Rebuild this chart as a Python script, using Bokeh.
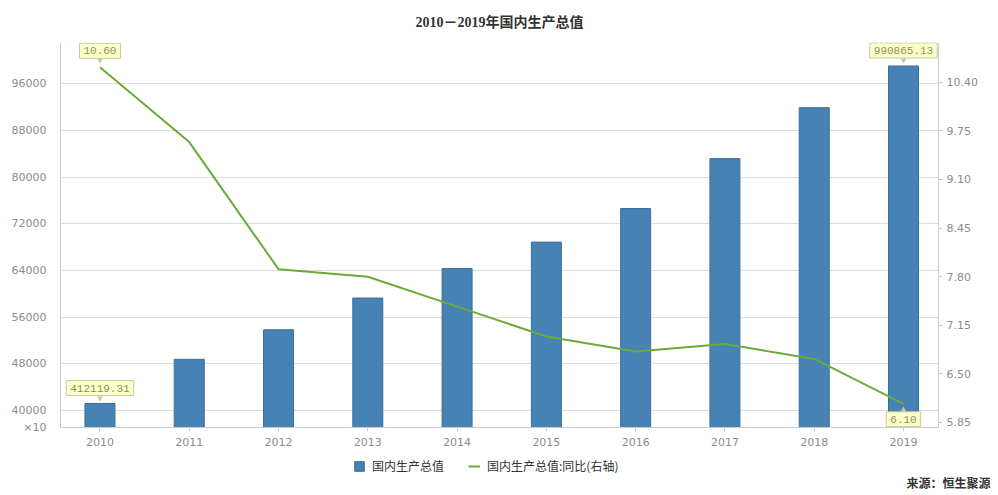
from bokeh.plotting import figure
from bokeh.layouts import column
from bokeh.models import (Range1d, LinearAxis, FixedTicker, NumeralTickFormatter,
                          Label, Legend, LegendItem, ColumnDataSource)
from bokeh.embed import file_html
from bokeh.resources import INLINE

years = ["2010", "2011", "2012", "2013", "2014", "2015", "2016", "2017", "2018", "2019"]
gdp = [41211.931, 48794.02, 53858.0, 59296.32, 64356.31, 68885.82, 74639.51, 83203.59, 91928.11, 99086.51]
growth = [10.6, 9.6, 7.9, 7.8, 7.4, 7.0, 6.8, 6.9, 6.7, 6.1]
left_ticks = [40000, 48000, 56000, 64000, 72000, 80000, 88000, 96000]
right_ticks = [5.85, 6.50, 7.15, 7.80, 8.45, 9.10, 9.75, 10.40]
bar_labels = {0: "412119.31", 9: "990865.13"}
line_labels = {0: "10.60", 9: "6.10"}
unit_text = "×10"
title_text = "2010－2019年国内生产总值"
source_text = "来源：恒生聚源"
series_names = ["国内生产总值", "国内生产总值:同比(右轴)"]

Y0, Y1 = 37100, 103112
xs = list(range(len(years)))
src = ColumnDataSource(dict(x=xs, gdp=gdp, growth=growth))

BAR_FILL, BAR_LINE, LINE_C = "#4682b4", "#3b6f9c", "#6aaa3a"

p = figure(width=998, height=452, output_backend="svg", toolbar_location=None,
           x_range=Range1d(-0.442, 9.392), y_range=Range1d(Y0, Y1),
           min_border_left=60, min_border_right=60, min_border_top=40, min_border_bottom=25)
p.outline_line_color = None
p.extra_y_ranges = {"r": Range1d(5.783, 10.932)}
try:
    p.frame_align = False
except Exception:
    pass

p.title.text = title_text
p.title.align = "center"
p.title.text_font = "'Liberation Serif', 'Noto Sans CJK SC'"
p.title.text_font_size = "14px"
p.title.text_font_style = "bold"
p.title.text_color = "#333333"
p.title.standoff = 25

FONT = "DejaVu Sans"
TICKC = "#8c8c8c"
AXC = "#cccccc"

ya = p.yaxis[0]
ya.ticker = FixedTicker(ticks=[Y0] + left_ticks)
ya.major_label_overrides = {Y0: unit_text}
ya.axis_line_color = AXC
ya.major_tick_line_color = None
ya.minor_tick_line_color = None
ya.major_label_text_font = FONT
ya.major_label_text_font_size = "11px"
ya.major_label_text_color = TICKC
ya.major_label_standoff = 8

ra = LinearAxis(y_range_name="r", ticker=FixedTicker(ticks=right_ticks),
                formatter=NumeralTickFormatter(format="0.00"))
ra.axis_line_color = AXC
ra.major_tick_line_color = AXC
ra.major_tick_out = 4
ra.major_tick_in = 0
ra.minor_tick_line_color = None
ra.major_label_text_font = FONT
ra.major_label_text_font_size = "11px"
ra.major_label_text_color = TICKC
ra.major_label_standoff = 4
p.add_layout(ra, "right")

xa = p.xaxis[0]
xa.ticker = FixedTicker(ticks=xs)
xa.major_label_overrides = {i: y for i, y in enumerate(years)}
xa.axis_line_color = AXC
xa.major_tick_line_color = AXC
xa.major_tick_out = 4
xa.major_tick_in = 0
xa.minor_tick_line_color = None
xa.major_label_text_font = FONT
xa.major_label_text_font_size = "11px"
xa.major_label_text_color = TICKC
xa.major_label_standoff = 6

p.xgrid.grid_line_color = None
p.ygrid.grid_line_color = "#dcdcdc"

bars = p.vbar(x="x", top="gdp", bottom=0, width=0.336, source=src,
              fill_color=BAR_FILL, line_color=BAR_LINE, line_width=1)
line = p.line(x="x", y="growth", source=src, y_range_name="r",
              line_color=LINE_C, line_width=2)

LBLC = "#8f8f5a"
BOXB = "#c8c8a0"
def callout(x, y, text, above, off, rng="default"):
    p.add_layout(Label(x=x, y=y, text=text, y_range_name=rng,
                       text_align="center", text_baseline="bottom" if above else "top",
                       y_offset=off if above else -off,
                       text_font="Liberation Mono", text_font_size="11px", text_color=LBLC,
                       background_fill_color="#ffffcc", border_line_color=BOXB,
                       padding=4))
    p.add_layout(Label(x=x, y=y, text="▼" if above else "▲", y_range_name=rng,
                       text_align="center", text_baseline="bottom" if above else "top",
                       y_offset=(off - 7) if above else -(off - 7),
                       text_font=FONT, text_font_size="7px", text_color=BOXB))

for i, t in bar_labels.items():
    callout(xs[i], gdp[i], t, True, 8)
callout(xs[0], growth[0], line_labels[0], True, 9, "r")
callout(xs[9], growth[9], line_labels[9], False, 8, "r")

# footer with legend and source
FW, FH = 998, 43
foot = figure(width=FW, height=FH, frame_width=FW, frame_height=FH,
              output_backend="svg", toolbar_location=None,
              x_range=Range1d(0, FW), y_range=Range1d(0, FH),
              x_axis_location=None, y_axis_location=None,
              min_border_left=0, min_border_right=0, min_border_top=0, min_border_bottom=0)
try:
    foot.frame_align = False
except Exception:
    pass
foot.outline_line_color = None
foot.xgrid.grid_line_color = None
foot.ygrid.grid_line_color = None
nan = float("nan")
legend_src = ColumnDataSource(dict(x=[nan], y=[nan]))
fb = foot.vbar(x="x", top="y", width=1, source=legend_src, fill_color=BAR_FILL, line_color=BAR_LINE)
fl = foot.line(x="x", y="y", source=legend_src, line_color=LINE_C, line_width=2)

legend = Legend(items=[LegendItem(label=series_names[0], renderers=[fb]),
                       LegendItem(label=series_names[1], renderers=[fl])],
                orientation="horizontal", location=(353, 21),
                label_text_font="Noto Sans CJK SC", label_text_font_size="12px",
                label_text_color="#333333", glyph_width=12, glyph_height=12,
                label_standoff=7, spacing=24, padding=0, margin=0, label_height=12,
                border_line_color=None, background_fill_alpha=0)
foot.add_layout(legend)
foot.add_layout(Label(x=990, y=13, text=source_text,
                      text_align="right", text_baseline="middle",
                      text_font="Noto Sans CJK SC", text_font_style="bold",
                      text_font_size="12px", text_color="#333333"))

layout = column(p, foot, spacing=0)
open("out.html", "w").write(file_html(layout, INLINE))
